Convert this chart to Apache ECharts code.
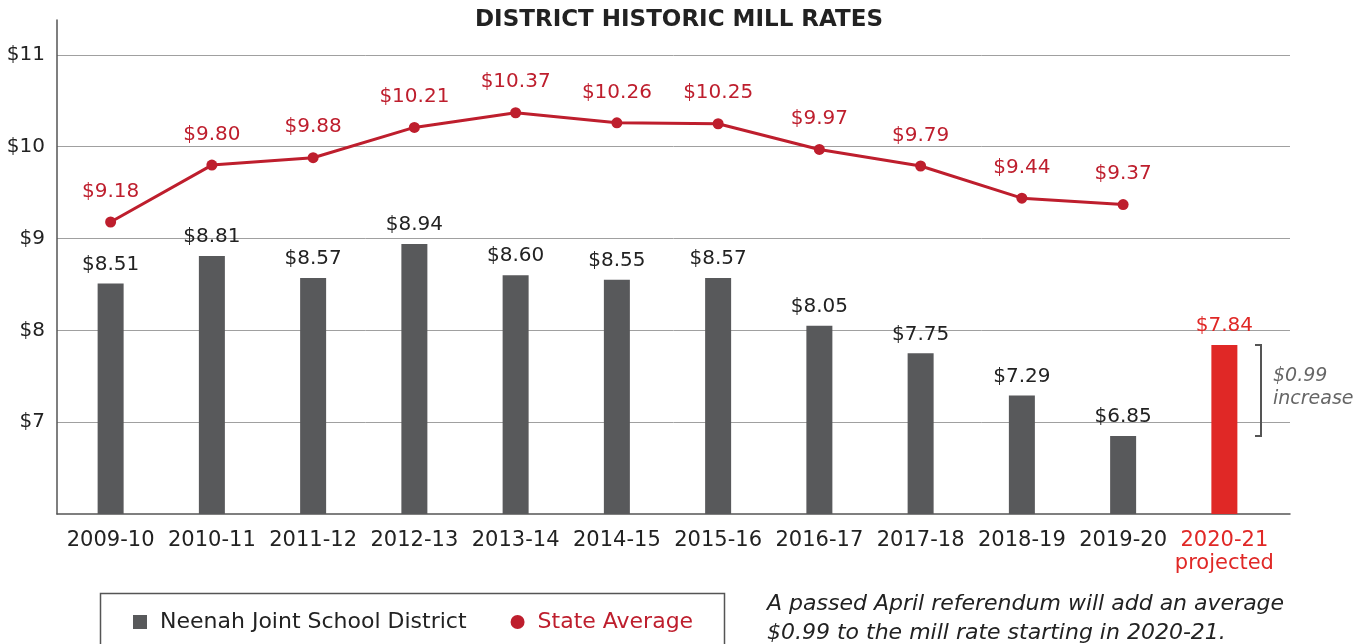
<!DOCTYPE html>
<html lang="en">
<head>
    <meta charset="UTF-8"/>
    <title>District Historic Mill Rates</title>
    <style>
        html, body {
            margin: 0;
            padding: 0;
            width: 100vw;
            height: 100vh;
            background: #ffffff;
            overflow: hidden;
        }

        #chart {
            width: 1367px;
            height: 644px;
        }
    </style>
</head>
<body>
<div id="chart"></div>
<script src="https://cdn.jsdelivr.net/npm/echarts@6/dist/echarts.min.js"></script>
<script>
    const chart = echarts.init(document.getElementById('chart'));

    const FONT = '"DejaVu Sans", sans-serif';
    const GRAY = '#58595b';
    const RED_LINE = '#be1e2d';
    const RED_BAR = '#e02826';

    // data
    const years = ['2009-10', '2010-11', '2011-12', '2012-13', '2013-14', '2014-15',
        '2015-16', '2016-17', '2017-18', '2018-19', '2019-20', '2020-21'];
    const districtRates = [8.51, 8.81, 8.57, 8.94, 8.60, 8.55, 8.57, 8.05, 7.75, 7.29, 6.85, 7.84];
    const stateRates = [9.18, 9.80, 9.88, 10.21, 10.37, 10.26, 10.25, 9.97, 9.79, 9.44, 9.37];
    const yTicks = [7, 8, 9, 10, 11];
    const projectedIndex = 11;

    const yMin = 6, yMax = 11.38;

    const categoryData = years.map((y, i) => i === projectedIndex
        ? {value: y + '\nprojected', textStyle: {color: RED_BAR}}
        : y);

    const barData = districtRates.map((v, i) => i === projectedIndex
        ? {value: v, itemStyle: {color: RED_BAR}, label: {color: RED_BAR}}
        : v);

    const option = {
        backgroundColor: '#ffffff',
        textStyle: {fontFamily: FONT},
        title: {
            text: 'DISTRICT HISTORIC MILL RATES',
            left: 674,
            textAlign: 'center',
            top: 4,
            textStyle: {fontFamily: FONT, fontSize: 23, fontWeight: 'bold', color: '#222'}
        },
        legend: {
            left: 128,
            top: 606,
            itemGap: 44,
            itemWidth: 14,
            itemHeight: 14,
            textStyle: {fontFamily: FONT, fontSize: 22, color: '#222', padding: [0, 0, 0, 8]},
            data: [
                {name: 'Neenah Joint School District', icon: 'rect'},
                {name: 'State Average', icon: 'circle', textStyle: {color: RED_LINE}}
            ]
        },
        grid: [
            // data grid
            {left: 60, right: 92, top: 20, bottom: 130},
            // frame grid (axis lines, gridlines, y labels)
            {left: 57, right: 77, top: 20, bottom: 130}
        ],
        xAxis: [
            {
                type: 'category',
                gridIndex: 0,
                data: categoryData,
                axisLine: {show: false},
                axisTick: {show: false},
                axisLabel: {
                    fontFamily: FONT, fontSize: 21, color: '#222', margin: 15, lineHeight: 23,
                    interval: 0
                }
            },
            {
                type: 'value',
                gridIndex: 1,
                min: 0, max: 1,
                axisLine: {show: true, lineStyle: {color: '#555', width: 1.5}},
                axisTick: {show: false},
                axisLabel: {show: false},
                splitLine: {show: false}
            }
        ],
        yAxis: [
            {
                type: 'value',
                gridIndex: 0,
                min: yMin, max: yMax,
                show: false
            },
            {
                type: 'value',
                gridIndex: 1,
                min: yMin, max: yMax,
                interval: 1,
                axisLine: {show: true, lineStyle: {color: '#555', width: 1.5}},
                axisTick: {show: false},
                splitLine: {show: true, showMinLine: false, showMaxLine: false, lineStyle: {color: '#a0a0a0', width: 1}},
                axisLabel: {
                    fontFamily: FONT, fontSize: 20, color: '#222', margin: 12,
                    showMinLabel: false, showMaxLabel: false,
                    formatter: v => yTicks.includes(v) ? '$' + v : ''
                }
            }
        ],
        series: [
            {
                name: 'Neenah Joint School District',
                type: 'bar',
                xAxisIndex: 0,
                yAxisIndex: 0,
                barWidth: 26,
                itemStyle: {color: GRAY},
                label: {
                    show: true,
                    position: 'top',
                    distance: 9,
                    fontFamily: FONT,
                    fontSize: 20,
                    color: '#222',
                    formatter: p => '$' + p.value.toFixed(2)
                },
                data: barData,
                z: 3
            },
            {
                name: 'State Average',
                type: 'line',
                xAxisIndex: 0,
                yAxisIndex: 0,
                symbol: 'circle',
                symbolSize: 11,
                lineStyle: {color: RED_LINE, width: 3},
                itemStyle: {color: RED_LINE},
                label: {
                    show: true,
                    position: 'top',
                    distance: 15,
                    fontFamily: FONT,
                    fontSize: 20,
                    color: RED_LINE,
                    formatter: p => '$' + p.value.toFixed(2)
                },
                data: stateRates,
                z: 4
            }
        ]
    };

    chart.setOption(option);

    // bracket showing the increase from 2019-20 to 2020-21 projected
    const yTop = chart.convertToPixel({yAxisIndex: 0}, districtRates[projectedIndex]);
    const yBot = chart.convertToPixel({yAxisIndex: 0}, districtRates[projectedIndex - 1]);
    const bx = 1261;
    const diff = (districtRates[projectedIndex] - districtRates[projectedIndex - 1]).toFixed(2);

    chart.setOption({
        graphic: [
            {
                type: 'polyline',
                shape: {points: [[bx - 6, yTop], [bx, yTop], [bx, yBot], [bx - 6, yBot]]},
                style: {stroke: '#555', lineWidth: 2, fill: null}
            },
            {
                type: 'text',
                left: 1273,
                top: (yTop + yBot) / 2 - 26,
                style: {
                    text: '$' + diff + '\nincrease',
                    fontFamily: FONT, fontSize: 19, fontStyle: 'italic',
                    fill: '#666', lineHeight: 23
                }
            },
            {
                type: 'rect',
                shape: {x: 100.5, y: 593.5, width: 624, height: 80},
                style: {stroke: '#555', lineWidth: 1.5, fill: null}
            },
            {
                type: 'text',
                left: 767,
                top: 590,
                style: {
                    text: 'A passed April referendum will add an average\n$0.99 to the mill rate starting in 2020-21.',
                    fontFamily: FONT, fontSize: 22, fontStyle: 'italic',
                    fill: '#222', lineHeight: 29
                }
            }
        ]
    });

    window.addEventListener('resize', () => {
        chart.resize();
    });
</script>
</body>
</html>
